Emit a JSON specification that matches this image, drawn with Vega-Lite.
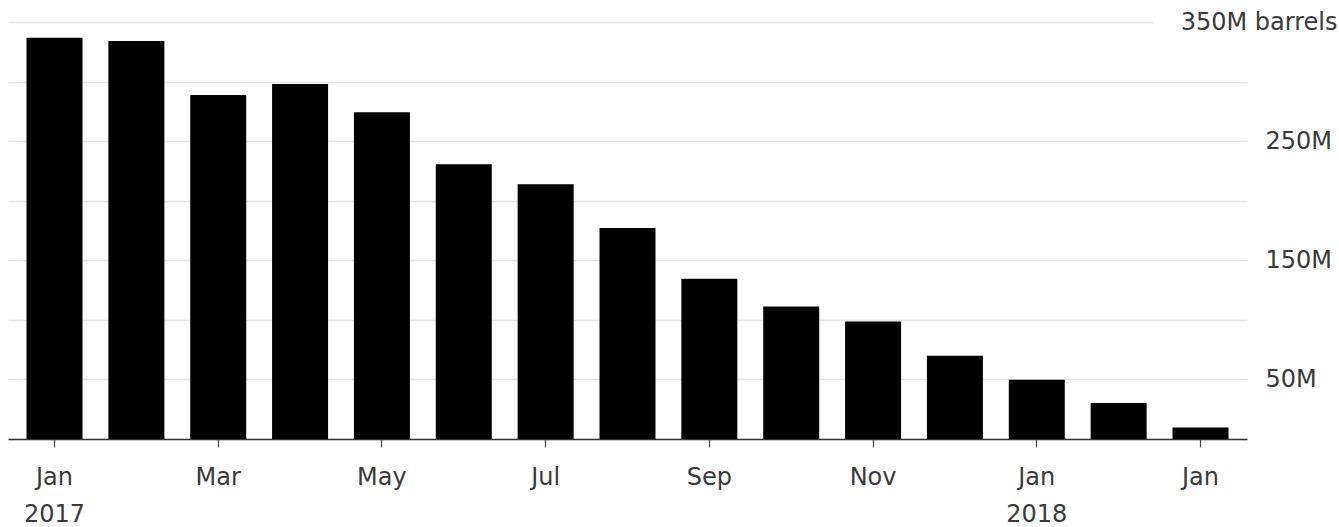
{
  "$schema": "https://vega.github.io/schema/vega-lite/v6.json",
  "width": 1239,
  "height": 417,
  "autosize": {"type": "none"},
  "padding": {"left": 8, "top": 22, "right": 92, "bottom": 88},
  "background": "white",
  "config": {"view": {"stroke": null}, "font": "DejaVu Sans"},
  "data": {
    "values": [
      {"month": "2017-01", "barrels": 336.8},
      {"month": "2017-02", "barrels": 334.1},
      {"month": "2017-03", "barrels": 288.8},
      {"month": "2017-04", "barrels": 298.0},
      {"month": "2017-05", "barrels": 274.3},
      {"month": "2017-06", "barrels": 230.6},
      {"month": "2017-07", "barrels": 213.9},
      {"month": "2017-08", "barrels": 177.0},
      {"month": "2017-09", "barrels": 134.4},
      {"month": "2017-10", "barrels": 111.2},
      {"month": "2017-11", "barrels": 98.6},
      {"month": "2017-12", "barrels": 69.9},
      {"month": "2018-01", "barrels": 49.7},
      {"month": "2018-02", "barrels": 30.2},
      {"month": "2018-03", "barrels": 9.7}
    ]
  },
  "mark": {"type": "bar", "color": "#000000"},
  "encoding": {
    "x": {
      "field": "month",
      "type": "ordinal",
      "sort": null,
      "scale": {"paddingInner": 0.316, "paddingOuter": 0.226},
      "axis": {
        "title": null,
        "values": ["2017-01", "2017-03", "2017-05", "2017-07", "2017-09", "2017-11", "2018-01", "2018-03"],
        "labelExpr": "datum.value == '2017-01' ? ['Jan', '2017'] : datum.value == '2018-01' ? ['Jan', '2018'] : datum.value == '2017-03' ? 'Mar' : datum.value == '2017-05' ? 'May' : datum.value == '2017-07' ? 'Jul' : datum.value == '2017-09' ? 'Sep' : datum.value == '2017-11' ? 'Nov' : 'Jan'",
        "labelAngle": 0,
        "labelFontSize": 24,
        "labelColor": "#3a3a3a",
        "labelLineHeight": 37,
        "labelPadding": 18,
        "labelBaseline": "top",
        "domainColor": "#333333",
        "domainWidth": 1.5,
        "tickColor": "#444444",
        "tickSize": 8,
        "tickWidth": 1.2,
        "grid": false
      }
    },
    "y": {
      "field": "barrels",
      "type": "quantitative",
      "scale": {"domain": [0, 350], "nice": false},
      "axis": {
        "orient": "right",
        "title": null,
        "values": [0, 50, 100, 150, 200, 250, 300, 350],
        "labelExpr": "datum.value == 350 ? '350M barrels' : (datum.value % 100 == 50 ? datum.value + 'M' : '')",
        "labelFontSize": 24,
        "labelColor": "#3a3a3a",
        "labelAlign": {"condition": {"test": "datum.value == 350", "value": "right"}, "value": "left"},
        "labelPadding": {"condition": {"test": "datum.value == 350", "value": 90}, "value": 18},
        "labelBaseline": "middle",
        "domain": false,
        "ticks": false,
        "grid": true,
        "gridColor": "#e4e4e4",
        "gridWidth": 1.5,
        "gridDash": {"condition": {"test": "datum.value == 350", "value": [1145, 94]}, "value": []},
        "gridDashOffset": {"condition": {"test": "datum.value == 350", "value": 1145}, "value": 0}
      }
    }
  }
}
